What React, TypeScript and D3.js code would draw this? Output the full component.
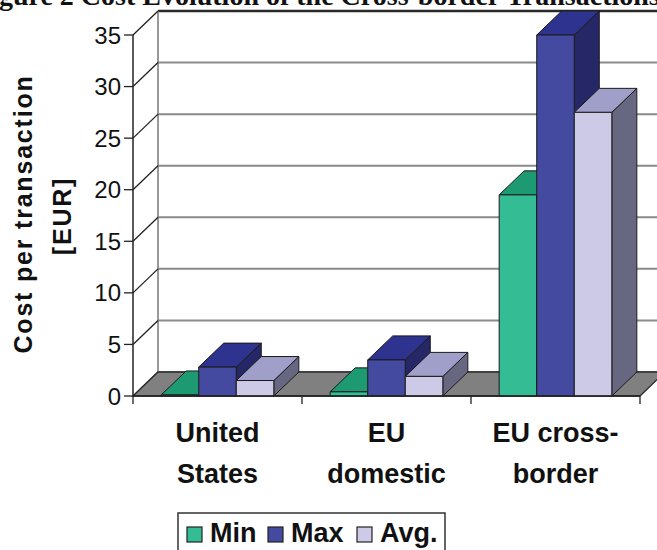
import * as d3 from 'd3';
import React from 'react';

// categories and series
const categories = ['United States', 'EU domestic', 'EU cross-border'];
const categoryLines = [['United', 'States'], ['EU', 'domestic'], ['EU cross-', 'border']];
const seriesNames = ['Min', 'Max', 'Avg.'];
const minValues = [0.1, 0.4, 19.5];
const maxValues = [2.8, 3.5, 35];
const avgValues = [1.5, 1.9, 27.5];
const yTicks = [0, 5, 10, 15, 20, 25, 30, 35];

const titleText = 'Figure 2 Cost Evolution of the Cross-border Transactions';
const yLabelLines = ['Cost per transaction', '[EUR]'];

// front / top / side shades per series
const faceColors = [
  { front: '#34bc95', top: '#1d9a72', side: '#178162' },
  { front: '#434aa0', top: '#2e338f', side: '#262767' },
  { front: '#cccae6', top: '#a09fca', side: '#676781' },
];

const W = 657;
const H = 550;
const DX = 25;
const DY = -24;
const font = 'Liberation Sans, Arial, sans-serif';

const App: React.FC = () => {
  const x = d3.scaleBand<string>().domain(categories).range([133, 640]);
  const xSub = d3
    .scaleBand<string>()
    .domain(seriesNames)
    .range([0, x.bandwidth()])
    .paddingInner(0)
    .paddingOuter(0.75);
  const y = d3.scaleLinear().domain([0, 35]).range([396, 35]);

  const values = [minValues, maxValues, avgValues];
  const x0 = x.range()[0];
  const x1 = x.range()[1];
  const y0 = y(0);
  const yTop = y(35);

  const poly = (pts: [number, number][]) => 'M' + pts.map((p) => p.join(',')).join('L') + 'Z';

  const bars: JSX.Element[] = [];
  categories.forEach((c, ci) => {
    seriesNames.forEach((s, si) => {
      const v = values[si][ci];
      const bx = (x(c) ?? 0) + (xSub(s) ?? 0);
      const bw = xSub.bandwidth();
      const ty = y(v);
      const col = faceColors[si];
      bars.push(
        <g key={`${c}-${s}`} stroke="#1a1a1a" strokeWidth={1} strokeLinejoin="round">
          <path
            d={poly([
              [bx + bw, y0],
              [bx + bw + DX, y0 + DY],
              [bx + bw + DX, ty + DY],
              [bx + bw, ty],
            ])}
            fill={col.side}
          />
          <path
            d={poly([
              [bx, ty],
              [bx + DX, ty + DY],
              [bx + bw + DX, ty + DY],
              [bx + bw, ty],
            ])}
            fill={col.top}
          />
          <rect x={bx} y={ty} width={bw} height={y0 - ty} fill={col.front} />
        </g>
      );
    });
  });

  return (
    <div style={{ position: 'absolute', left: 0, top: 0 }}>
      <svg width={W} height={H} style={{ display: 'block', background: '#fff' }}>
        <text
          x={-26}
          y={5}
          fontFamily="Liberation Serif, Times New Roman, serif"
          fontWeight="bold"
          fontSize={28}
          fill="#111"
        >
          {titleText}
        </text>

        {/* back wall */}
        <rect x={x0 + DX} y={yTop + DY} width={W} height={y0 - yTop} fill="#fff" />
        {yTicks.map((t) => (
          <line
            key={`g${t}`}
            x1={x0 + DX}
            x2={W + 10}
            y1={y(t) + DY}
            y2={y(t) + DY}
            stroke={t === 35 ? '#2a2a2a' : '#8a8a8a'}
            strokeWidth={t === 35 ? 2.5 : 2}
          />
        ))}
        <line x1={x0 + DX} x2={x0 + DX} y1={yTop + DY} y2={y0 + DY} stroke="#777" strokeWidth={1.5} />

        {/* side wall diagonals */}
        {yTicks.map((t) => (
          <line
            key={`d${t}`}
            x1={x0}
            y1={y(t)}
            x2={x0 + DX}
            y2={y(t) + DY}
            stroke="#222"
            strokeWidth={1.3}
          />
        ))}

        {/* floor */}
        <path
          d={poly([
            [x0, y0],
            [x1, y0],
            [x1 + DX, y0 + DY],
            [x0 + DX, y0 + DY],
          ])}
          fill="#808080"
          stroke="#2a2a2a"
          strokeWidth={1.3}
        />

        {bars}

        {/* y axis */}
        <line x1={x0} x2={x0} y1={yTop} y2={y0} stroke="#222" strokeWidth={1.5} />
        {yTicks.map((t) => (
          <g key={`t${t}`}>
            <line x1={x0 - 9} x2={x0} y1={y(t)} y2={y(t)} stroke="#222" strokeWidth={1.3} />
            <text
              x={x0 - 12}
              y={y(t)}
              dy="0.36em"
              textAnchor="end"
              fontFamily={font}
              fontSize={24}
              fill="#111"
            >
              {t}
            </text>
          </g>
        ))}

        {/* x axis */}
        <line x1={x0} x2={x1} y1={y0} y2={y0} stroke="#222" strokeWidth={1.5} />
        {[...categories.map((c) => x(c) ?? 0), x1].map((tx, i) => (
          <line key={`xt${i}`} x1={tx} x2={tx} y1={y0} y2={y0 + 8} stroke="#222" strokeWidth={1.3} />
        ))}
        {categories.map((c, ci) => (
          <text
            key={`cl${c}`}
            textAnchor="middle"
            fontFamily={font}
            fontWeight="bold"
            fontSize={27}
            fill="#111"
          >
            {categoryLines[ci].map((ln, li) => (
              <tspan key={ln} x={(x(c) ?? 0) + x.bandwidth() / 2} y={442 + li * 41}>
                {ln}
              </tspan>
            ))}
          </text>
        ))}

        {/* y label */}
        <text
          transform="translate(32,214) rotate(-90)"
          textAnchor="middle"
          fontFamily={font}
          fontWeight="bold"
          fontSize={25}
          letterSpacing={1.8}
          fill="#111"
        >
          {yLabelLines[0]}
        </text>
        <text
          transform="translate(71,216) rotate(-90)"
          textAnchor="middle"
          fontFamily={font}
          fontWeight="bold"
          fontSize={25}
          letterSpacing={1.8}
          fill="#111"
        >
          {yLabelLines[1]}
        </text>

        {/* legend */}
        <rect x={178} y={513} width={267} height={50} fill="#fff" stroke="#333" strokeWidth={1.5} />
        {seriesNames.map((s, si) => {
          const lx = [187, 268, 357][si];
          return (
            <g key={`lg${s}`}>
              <rect x={lx} y={527} width={15} height={15} fill={faceColors[si].front} stroke="#222" strokeWidth={1.2} />
              <text x={lx + 23} y={542} fontFamily={font} fontWeight="bold" fontSize={27} fill="#111">
                {s}
              </text>
            </g>
          );
        })}
      </svg>
    </div>
  );
};

export default App;
